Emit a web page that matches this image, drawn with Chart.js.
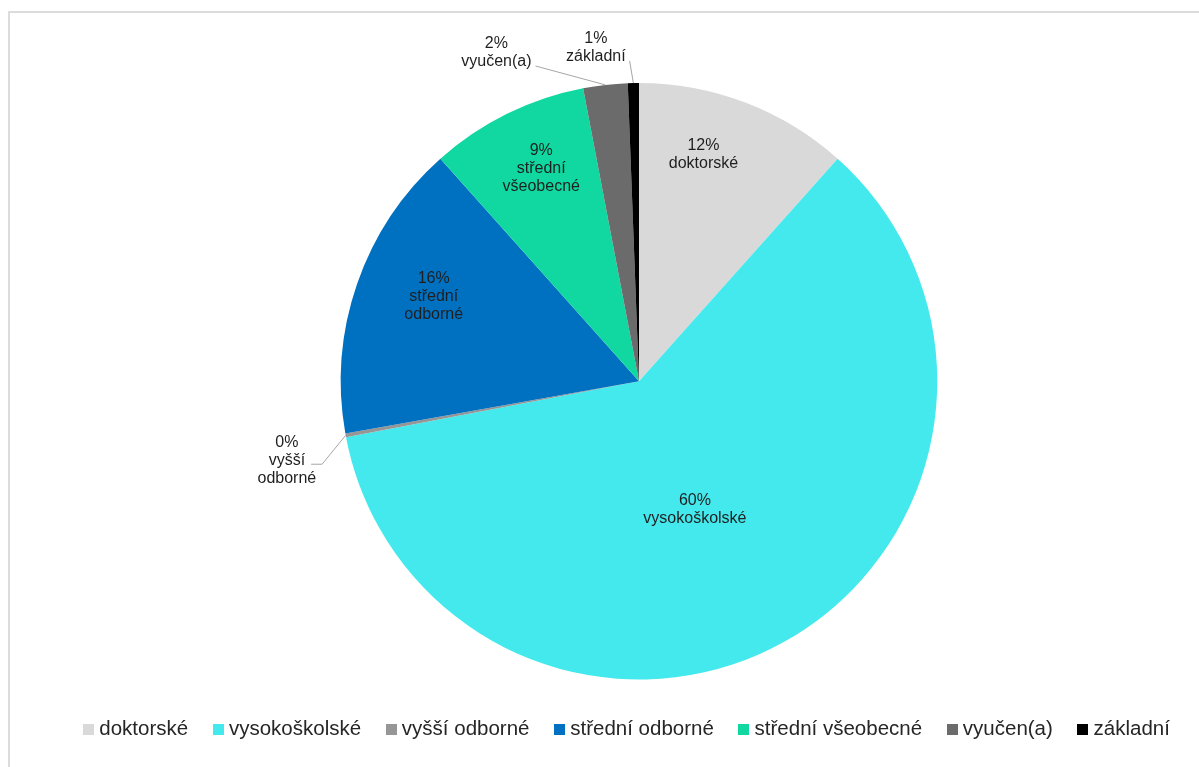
<!DOCTYPE html>
<html>
<head>
<meta charset="utf-8">
<script src="https://cdn.jsdelivr.net/npm/chart.js@4"></script>
<style>
  body { margin: 0; background: #fff; overflow: hidden; }
  #wrap { position: relative; width: 1199px; height: 767px; overflow: hidden; }
  #frame { position: absolute; left: 8px; top: 11px; width: 1300px; height: 900px; border: 2px solid #dcdcdc; box-sizing: border-box; }
  canvas { position: absolute; left: 0; top: 0; }
</style>
</head>
<body>
<div id="wrap">
  <div id="frame"></div>
  <canvas id="myChart" width="1278" height="767"></canvas>
</div>
<script>
const ctx = document.getElementById('myChart')

const categories = ['doktorské', 'vysokoškolské', 'vyšší odborné', 'střední odborné', 'střední všeobecné', 'vyučen(a)', 'základní']
const shares = [11.6, 60.4, 0.2, 16.2, 8.6, 2.4, 0.6]
const sliceColors = ['#d9d9d9', '#44e9ed', '#969696', '#0070c0', '#10d8a0', '#6b6b6b', '#000000']

const FONT = "'Liberation Sans', Arial, sans-serif"

// where each slice label sits: fraction of the radius and a turn (degrees) off the slice middle
const labelSpots = [
  { r: 0.79, turn: -5 },
  { r: 0.47, turn: 6 },
  { r: 1.21, turn: -2.2, outside: true },
  { r: 0.745, turn: 3.4 },
  { r: 0.785, turn: 1.6 },
  { r: 1.20, turn: -17, outside: true },
  { r: 1.127, turn: -6.3, outside: true }
]

// small square swatches for the legend, so the text sits close to its box
const swatches = sliceColors.map(col => {
  const sw = document.createElement('canvas')
  sw.width = 11
  sw.height = 11
  const g = sw.getContext('2d')
  g.fillStyle = col
  g.fillRect(0, 0, 11, 11)
  return sw
})

const sliceLabels = {
  id: 'sliceLabels',
  afterDatasetsDraw(chart) {
    const c = chart.ctx
    const meta = chart.getDatasetMeta(0)
    const data = chart.data.datasets[0].data
    const total = data.reduce((acc, v) => acc + v, 0)
    const lineH = 18

    c.save()
    c.font = '16px ' + FONT
    c.fillStyle = '#1f1f1f'
    c.textAlign = 'center'
    c.textBaseline = 'middle'

    meta.data.forEach((arc, i) => {
      const spot = labelSpots[i]
      const mid = (arc.startAngle + arc.endAngle) / 2
      const a = mid + spot.turn * Math.PI / 180
      const cx = arc.x + Math.cos(a) * arc.outerRadius * spot.r
      const cy = arc.y + Math.sin(a) * arc.outerRadius * spot.r
      const lines = [Math.round(data[i] / total * 100) + '%', ...chart.data.labels[i].split(' ')]
      const top = cy - (lines.length - 1) * lineH / 2

      lines.forEach((t, k) => c.fillText(t, cx, top + k * lineH))

      if (spot.outside) {
        const ex = arc.x + Math.cos(mid) * arc.outerRadius
        const ey = arc.y + Math.sin(mid) * arc.outerRadius
        c.strokeStyle = '#a6a6a6'
        c.lineWidth = 1
        c.beginPath()
        if (Math.cos(mid) < -0.5) {
          const ax = cx + c.measureText(lines[1]).width / 2 + 6
          const ay = cy + 4
          c.moveTo(ax, ay)
          c.lineTo(ax + 11, ay)
          c.lineTo(ex, ey)
        } else {
          const w = Math.max(...lines.map(t => c.measureText(t).width))
          c.moveTo(cx + w / 2 + 4, top + (lines.length - 1) * lineH + 4)
          c.lineTo(ex, ey)
        }
        c.stroke()
      }
    })
    c.restore()
  }
}

// push the legend row down and left a little below the pie
const legendShift = {
  id: 'legendShift',
  afterLayout(chart) {
    const lg = chart.legend
    lg.top += 10
    lg.bottom += 10
    lg.left -= 10
    lg.right -= 10
  }
}

new Chart(ctx, {
  type: 'pie',
  data: {
    labels: categories,
    datasets: [{
      data: shares,
      backgroundColor: sliceColors,
      borderWidth: 0
    }]
  },
  options: {
    responsive: false,
    animation: false,
    events: [],
    layout: {
      padding: { top: 83, left: 0, right: 0, bottom: 27.5 }
    },
    plugins: {
      tooltip: { enabled: false },
      legend: {
        position: 'bottom',
        labels: {
          usePointStyle: true,
          pointStyleWidth: 1,
          boxHeight: 11,
          padding: 29.5,
          color: '#262626',
          font: { family: FONT, size: 20.5 },
          generateLabels(chart) {
            return chart.data.labels.map((text, i) => ({
              text,
              fillStyle: sliceColors[i],
              strokeStyle: sliceColors[i],
              lineWidth: 0,
              fontColor: '#262626',
              pointStyle: swatches[i],
              hidden: false,
              index: i
            }))
          }
        }
      }
    }
  },
  plugins: [sliceLabels, legendShift]
})
</script>
</body>
</html>
